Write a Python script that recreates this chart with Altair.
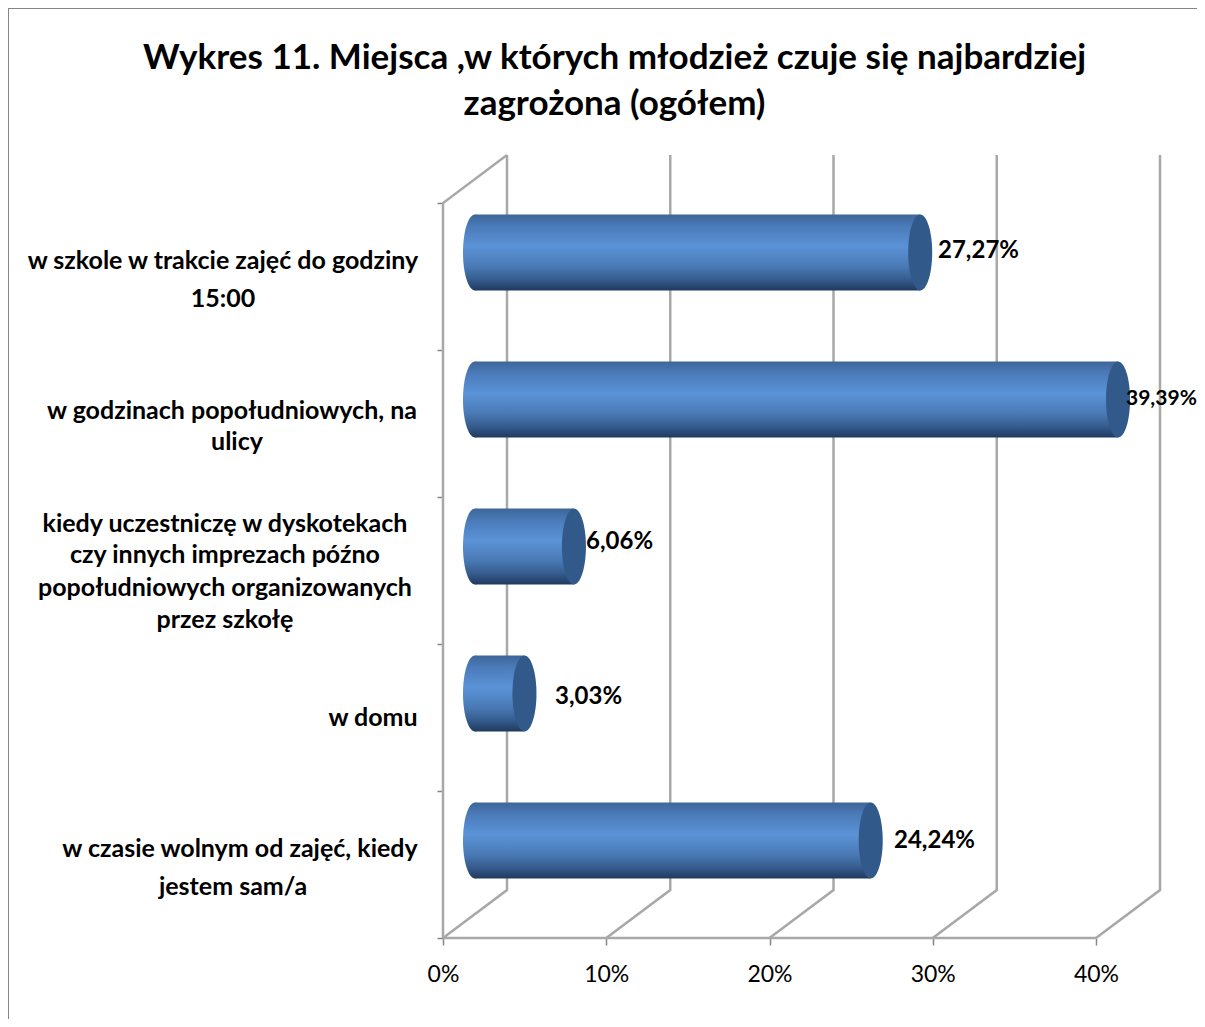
import altair as alt
import pandas as pd

# ---- values ----
title_lines = ["Wykres 11. Miejsca ,w których młodzież czuje się najbardziej", "zagrożona (ogółem)"]
values = [27.27, 39.39, 6.06, 3.03, 24.24]
value_text = ["27,27%", "39,39%", "6,06%", "3,03%", "24,24%"]
cat_lines = [
    ["w szkole w trakcie zajęć do godziny", "15:00"],
    ["w godzinach popołudniowych, na", "ulicy"],
    ["kiedy uczestniczę w dyskotekach", "czy innych imprezach późno",
     "popołudniowych organizowanych", "przez szkołę"],
    ["w domu"],
    ["w czasie wolnym od zajęć, kiedy", "jestem sam/a"],
]
ticks = [0, 10, 20, 30, 40]

# ---- layout helpers (screen pixels to scale units) ----
W = 1189; H = 1011
PX = 16.325; PY = 147.0; X0 = 443.0; Y0 = 938.0
ux = lambda p: (p - X0) / PX
uy = lambda p: (Y0 - p) / PY
DX = 64 / PX; DY = 48 / PY
TOP = 5 + DY
HALF = 38 / PY
label_left_px = [938, 1126, 586, 555, 894]
label_mid_px = [251, 399, 542, 697, 841]
label_font = [24, 21, 24, 24, 24]
cat_x_px = [[223, 223], [232, 237], [225, 225, 225, 225], [373], [240, 233]]
cat_y_px = [[261, 299], [411, 442], [524, 555, 588, 620], [718], [849, 887]]

sx = alt.Scale(domain=[ux(8), ux(8 + W)], nice=False, zero=False)
sy = alt.Scale(domain=[uy(8 + H), uy(8)], nice=False, zero=False)
x_axis = alt.Axis(values=ticks, labelExpr="datum.value + '%'", offset=Y0 - (8 + H), domain=False, grid=False,
                  tickColor="#868686", tickSize=7, tickWidth=1.5, labelFontSize=23, labelFont="Lato",
                  labelColor="#000000", labelPadding=18, title=None)
y_axis = alt.Axis(values=[0, 1, 2, 3, 4, 5], offset=-435, domain=False, grid=False, labels=False,
                  tickColor="#868686", tickSize=6, tickWidth=1.5, title=None)
X = lambda f: alt.X(f, type="quantitative", scale=sx, axis=x_axis, title=None)
Y = lambda f: alt.Y(f, type="quantitative", scale=sy, axis=y_axis, title=None)

# ---- outer border: only its top and left sides fall inside the picture ----
border = alt.Chart(pd.DataFrame([
    dict(o=0, x=ux(8), y=uy(8 + H)),
    dict(o=1, x=ux(8), y=uy(8)),
    dict(o=2, x=ux(8 + W), y=uy(8)),
])).mark_line(color="#868686", strokeWidth=2).encode(x=X("x"), y=Y("y"), order="o:Q")

# ---- 3D frame lines ----
rows = []
for t in ticks:
    rows += [dict(g=t, o=0, x=t, y=0), dict(g=t, o=1, x=t + DX, y=DY), dict(g=t, o=2, x=t + DX, y=TOP)]
rows += [dict(g=100, o=0, x=0, y=0), dict(g=100, o=1, x=0, y=5), dict(g=100, o=2, x=DX, y=TOP)]
rows += [dict(g=101, o=0, x=0, y=0), dict(g=101, o=1, x=40, y=0)]
frame = alt.Chart(pd.DataFrame(rows)).mark_line(color="#a8a8a8", strokeWidth=2.5).encode(
    x=X("x"), y=Y("y"), detail="g:N", order="o:Q")

# ---- cylinders ----
bars = pd.DataFrame({
    "x0": [DX / 2] * 5,
    "x1": [v + DX / 2 for v in values],
    "yc": [4.5 - i + DY / 2 for i in range(5)],
})
bars["y0"] = bars.yc - HALF
bars["y1"] = bars.yc + HALF
grad = alt.LinearGradient(gradient="linear", x1=0, x2=0, y1=0, y2=1, stops=[
    alt.GradientStop(color="#3e6699", offset=0),
    alt.GradientStop(color="#4a7ab8", offset=0.15),
    alt.GradientStop(color="#5b93d8", offset=0.42),
    alt.GradientStop(color="#4a7ab5", offset=0.68),
    alt.GradientStop(color="#365d8f", offset=0.85),
    alt.GradientStop(color="#1f3a5e", offset=1),
])
ELLIPSE = ("M0,-1 C0.1745,-1 0.316,-0.5523 0.316,0 C0.316,0.5523 0.1745,1 0,1 "
           "C-0.1745,1 -0.316,0.5523 -0.316,0 C-0.316,-0.5523 -0.1745,-1 0,-1 Z")
body = alt.Chart(bars).mark_bar(fill=grad, strokeWidth=0).encode(
    x=X("x0"), x2="x1", y=Y("y0"), y2="y1")
back = alt.Chart(bars).mark_point(shape=ELLIPSE, size=76 ** 2, filled=True, fill=grad, opacity=1, strokeWidth=0).encode(
    x=X("x0"), y=Y("yc"))
front = alt.Chart(bars).mark_point(shape=ELLIPSE, size=76 ** 2, filled=True, fill="#31598a", opacity=1, strokeWidth=0).encode(
    x=X("x1"), y=Y("yc"))

# ---- texts ----
lab = pd.DataFrame({"t": value_text, "x": [ux(p) for p in label_left_px], "y": [uy(p) for p in label_mid_px],
                    "s": label_font})
labels = alt.Chart(lab).mark_text(align="left", baseline="middle", font="Lato", fontWeight="bold",
                                  color="#000000").encode(
    x=X("x"), y=Y("y"), text="t:N", size=alt.Size("s:Q", scale=None, legend=None))
crow = []
for ls, xs, ys in zip(cat_lines, cat_x_px, cat_y_px):
    for l, a, b in zip(ls, xs, ys):
        crow.append(dict(t=l, x=ux(a), y=uy(b)))
cats = alt.Chart(pd.DataFrame(crow)).mark_text(align="center", baseline="middle", font="Lato", fontWeight="bold",
                                               fontSize=25, color="#000000").encode(x=X("x"), y=Y("y"), text="t:N")

chart = alt.layer(border, frame, back, body, front, labels, cats).properties(
    width=W, height=H, padding=0, autosize=alt.AutoSizeParams(type="none"), background="#ffffff",
    title=alt.Title(title_lines, offset=-118, anchor="middle", frame="group", dx=12, font="Lato",
                    fontSize=35, fontWeight="bold", color="#000000", lineHeight=46),
).configure_view(stroke=None)

chart.save("out.html", embed_options={"renderer": "svg", "actions": False})
